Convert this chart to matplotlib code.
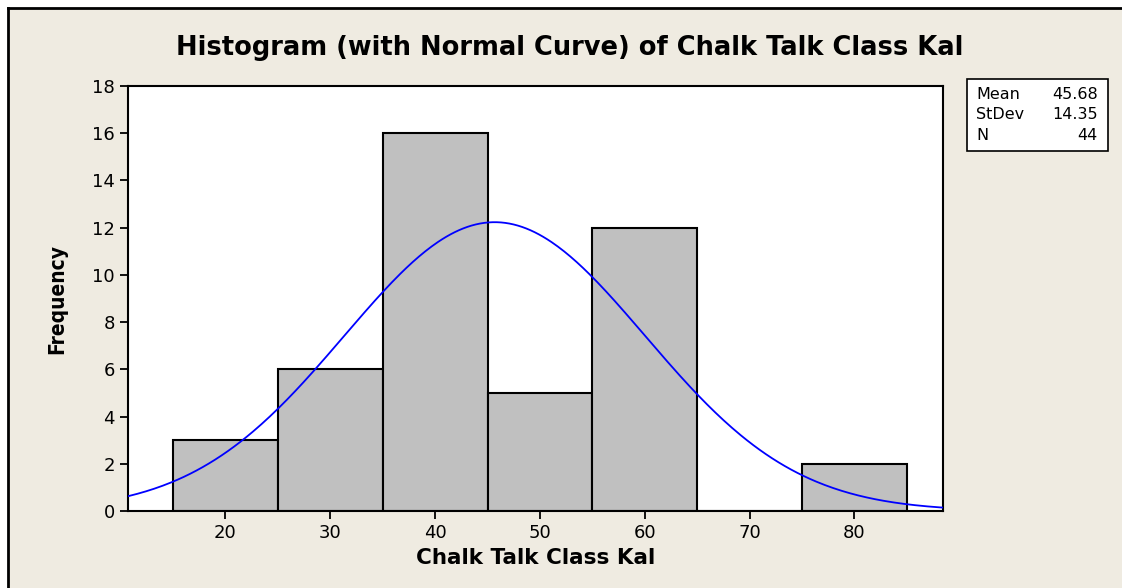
import numpy as np
import matplotlib
matplotlib.use("Agg")
import matplotlib.pyplot as plt
from matplotlib.patches import Rectangle
from matplotlib.lines import Line2D

# histogram data (bin edges of width 10, counts)
bin_edges = [15, 25, 35, 45, 55, 65, 75, 85]
counts = [3, 6, 16, 5, 12, 0, 2]
mean_val = 45.68
sd_val = 14.35
n_val = 44
xticks = [20, 30, 40, 50, 60, 70, 80]
yticks = [0, 2, 4, 6, 8, 10, 12, 14, 16, 18]

bg = "#efebe1"
W, H = 1122, 588

fig = plt.figure(figsize=(W / 100, H / 100), dpi=100, facecolor="white")
fig.add_artist(Rectangle((8 / W, 0), 1, 1 - 8 / H, transform=fig.transFigure,
                         facecolor=bg, edgecolor="none", zorder=-10))
fig.add_artist(Line2D([8 / W, 1], [1 - 8 / H, 1 - 8 / H], transform=fig.transFigure,
                      color="black", lw=2))
fig.add_artist(Line2D([8 / W, 8 / W], [0, 1 - 8 / H], transform=fig.transFigure,
                      color="black", lw=2))

ax = fig.add_axes([128 / W, 1 - 511 / H, (943 - 128) / W, (511 - 86) / H])
ax.set_facecolor("white")

widths = np.diff(bin_edges)
ax.bar(bin_edges[:-1], counts, width=widths, align="edge",
       color="#c0c0c0", edgecolor="black", linewidth=1.5, zorder=2)

xs = np.linspace(10, 90, 400)
binw = widths[0]
ys = n_val * binw / (sd_val * np.sqrt(2 * np.pi)) * np.exp(-0.5 * ((xs - mean_val) / sd_val) ** 2)
ax.plot(xs, ys, color="#0000ff", lw=1.3, zorder=3)

ax.set_xlim(10.7, 88.45)
ax.set_ylim(0, 18)
ax.set_xticks(xticks)
ax.set_yticks(yticks)
ax.tick_params(direction="out", length=6, width=1.3, labelsize=13, colors="black")
for s in ax.spines.values():
    s.set_linewidth(1.5)

ax.set_xlabel("Chalk Talk Class Kal", fontsize=15.5, fontweight="bold", labelpad=4)
ax.set_ylabel("Frequency", fontsize=15, fontweight="bold", labelpad=18,
              family="DejaVu Sans", fontstretch="condensed")
fig.text(570 / W, 1 - 48 / H, "Histogram (with Normal Curve) of Chalk Talk Class Kal",
         ha="center", va="center", fontsize=18.5, fontweight="bold")

# stats box
fig.add_artist(Rectangle((967 / W, 1 - 151 / H), (1108 - 967) / W, (151 - 79) / H,
                         transform=fig.transFigure, facecolor="white",
                         edgecolor="black", lw=1.2))
rows = [("Mean", f"{mean_val:.2f}"), ("StDev", f"{sd_val:.2f}"), ("N", f"{n_val}")]
for i, (k, v) in enumerate(rows):
    y = 1 - (94 + i * 21) / H
    fig.text(976 / W, y, k, ha="left", va="center", fontsize=11.5)
    fig.text(1098 / W, y, v, ha="right", va="center", fontsize=11.5)

fig.savefig("out.png", dpi=100, facecolor=fig.get_facecolor())
